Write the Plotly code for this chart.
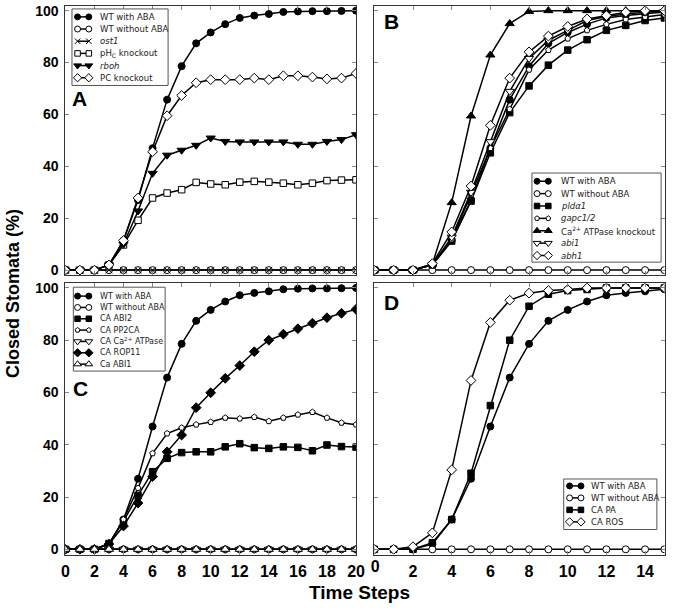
import plotly.graph_objects as go

W, H = 675, 612

# ---------------- data ----------------
steps_long = list(range(21))   # panels A and C
steps_short = list(range(16))  # panels B and D

wt_with_aba = [0, 0, 0, 2, 11.4, 27, 47, 65.7, 78.6, 87.4, 91.6, 94.8, 97.2, 98.1,
               98.7, 99.5, 99.7, 99.8, 99.8, 99.9, 100]
wt_without_aba = [0, 0, 0, 0, 0, 0, 0, 0, 0, 0, 0, 0, 0, 0, 0, 0, 0, 0, 0, 0, 0]

# Panel A
ost1 = [0, 0, 0, 0, 0, 0, 0, 0, 0, 0, 0, 0, 0, 0, 0, 0, 0, 0, 0, 0, 0]
phc_knockout = [0, 0, 0, 2, 9.7, 19.2, 27.8, 29.7, 31, 33.8, 33.2, 32.9, 33.9, 34.2,
                33.9, 33.5, 32.9, 33.5, 34.5, 34.7, 34.8]
rboh = [0, 0, 0, 2, 10, 22.8, 37.3, 44.3, 46.2, 48.1, 50.9, 49.6, 49.4, 49.4,
        49.4, 49.4, 48.5, 48.5, 49.6, 50.3, 52.2]
pc_knockout = [0, 0, 0, 2, 11.4, 27.8, 45.6, 59.5, 67.3, 72.2, 73.4, 73.4, 73.4, 74,
               73.4, 74.9, 74.9, 74.4, 73.7, 74, 75.8]

# Panel B
plda1 = [0, 0, 0, 2, 11.2, 26.6, 45.2, 60.7, 71, 79, 84.8, 88.8, 92.4, 94.3, 96.2, 97.2]
gapc12 = [0, 0, 0, 2, 11.8, 29.2, 47, 62, 77.2, 84.8, 89.2, 92.4, 94.7, 96.6, 97.5, 98.5]
ca_atpase_knockout = [0, 0, 0, 2.3, 26, 59.4, 82.9, 95, 99.7, 100, 100, 100, 100, 100, 100, 100]
abi1 = [0, 0, 0, 2, 12.7, 30, 49.5, 68.9, 81.6, 88.6, 92.4, 96.2, 97.7, 98.7, 99.4, 99.7]
abh1 = [0, 0, 0, 2.5, 14.7, 32.4, 55.8, 74, 84.1, 90.2, 93.9, 96.8, 98.1, 99.4, 100, 100]

# Panel C
ca_abi2 = [0, 0, 0, 2.2, 10.8, 20.6, 29.7, 34.8, 37, 37.3, 37.3, 39.2, 40.4, 38.9,
           38.6, 39.2, 39, 37.7, 39.9, 39.3, 39.1]
ca_pp2ca = [0, 0, 0, 2, 11.4, 23.4, 36.7, 44.3, 46.5, 47.7, 48.7, 50.3, 50, 50.6,
            49, 50.3, 51.5, 52.5, 50.3, 48.4, 47.7]
ca_ca_atpase = [0, 0, 0, 0, 0, 0, 0, 0, 0, 0, 0, 0, 0, 0, 0, 0, 0, 0, 0, 0, 0]
ca_rop11 = [0, 0, 0, 2, 8.9, 17.7, 27.8, 37.3, 43.7, 54.2, 59.9, 65.4, 70.3, 75.6,
            80, 82.3, 84.4, 86.5, 88.6, 90.3, 91.8]
ca_abi1 = [0, 0, 0, 0, 0, 0, 0, 0, 0, 0, 0, 0, 0, 0, 0, 0, 0, 0, 0, 0, 0]

# Panel D
ca_pa = [0, 0, 0, 2.5, 11.4, 29.1, 55, 80, 93, 97.6, 99, 99.4, 100, 100, 100, 100]
ca_ros = [0, 0, 1, 6.3, 30.4, 64.6, 86.8, 95.3, 98, 99, 99.4, 100, 100, 100, 100, 100]

y_ticks = [0, 20, 40, 60, 80, 100]
x_ticks_long = [0, 2, 4, 6, 8, 10, 12, 14, 16, 18, 20]
x_ticks_short = [0, 2, 4, 6, 8, 10, 12, 14]

# ---------------- styles ----------------
STY = {
    "fcircle": dict(symbol="circle", color="black", size=7),
    "ocircle": dict(symbol="circle", color="white", size=7),
    "x": dict(symbol="x-thin", color="black", size=6.5),
    "osquare": dict(symbol="square", color="white", size=6.5),
    "fsquare": dict(symbol="square", color="black", size=6.5),
    "ftridown": dict(symbol="triangle-down", color="black", size=8),
    "otridown": dict(symbol="triangle-down", color="white", size=8),
    "ftriup": dict(symbol="triangle-up", color="black", size=8),
    "otriup": dict(symbol="triangle-up", color="white", size=8),
    "odiamond": dict(symbol="diamond", color="white", size=7.5),
    "fdiamond": dict(symbol="diamond", color="black", size=7.5),
    "opent": dict(symbol="pentagon", color="white", size=6),
}


def marker(key, scale=1.0):
    s = STY[key]
    return dict(symbol=s["symbol"], color=s["color"], size=s["size"] * scale,
                line=dict(color="black", width=1))


# panels: (xaxis id, yaxis id, x values, [(label, values, style)], drawing order)
panels = {
    "A": ("x", "y", steps_long, [
        ("WT with ABA", wt_with_aba, "fcircle"),
        ("WT without ABA", wt_without_aba, "ocircle"),
        ("<i>ost1</i>", ost1, "x"),
        ("pH<sub>C</sub> knockout", phc_knockout, "osquare"),
        ("<i>rboh</i>", rboh, "ftridown"),
        ("PC knockout", pc_knockout, "odiamond"),
    ], None),
    "B": ("x2", "y2", steps_short, [
        ("WT with ABA", wt_with_aba[:16], "fcircle"),
        ("WT without ABA", wt_without_aba[:16], "ocircle"),
        ("<i>pldα1</i>", plda1, "fsquare"),
        ("<i>gapc1/2</i>", gapc12, "opent"),
        ("Ca<sup>2+</sup> ATPase knockout", ca_atpase_knockout, "ftriup"),
        ("<i>abi1</i>", abi1, "otridown"),
        ("<i>abh1</i>", abh1, "odiamond"),
    ], None),
    "C": ("x3", "y3", steps_long, [
        ("WT with ABA", wt_with_aba, "fcircle"),
        ("WT without ABA", wt_without_aba, "ocircle"),
        ("CA ABI2", ca_abi2, "fsquare"),
        ("CA PP2CA", ca_pp2ca, "opent"),
        ("CA Ca<sup>2+</sup> ATPase", ca_ca_atpase, "otridown"),
        ("CA ROP11", ca_rop11, "fdiamond"),
        ("Ca ABI1", ca_abi1, "otriup"),
    ], [0, 2, 3, 5, 1, 4, 6]),
    "D": ("x4", "y4", steps_short, [
        ("WT with ABA", wt_with_aba[:16], "fcircle"),
        ("WT without ABA", wt_without_aba[:16], "ocircle"),
        ("CA PA", ca_pa, "fsquare"),
        ("CA ROS", ca_ros, "odiamond"),
    ], None),
}

# pixel boxes of the panels (left, top, right, bottom)
boxes = {
    "A": (62.5, 3, 359, 275),
    "B": (377.5, 3, 673.5, 275),
    "C": (62.5, 283, 359, 557),
    "D": (377.5, 283, 673.5, 557),
}
x_ranges = {"A": [-0.005, 20.005], "B": [-0.005, 15.005],
            "C": [-0.005, 20.005], "D": [-0.005, 15.005]}
x_tickvals = {"A": x_ticks_long, "B": x_ticks_short, "C": x_ticks_long, "D": x_ticks_short}
y_range = [-2, 101.8]

# legend layout (pixels): box, first row y, row step, sample marker x's, text x, font size
legend_layout = {
    "A": dict(box=(69.3, 6, 167.3, 83.3), y0=14, dy=12.3, mx=(75, 86.5), tx=96, fs=8.5),
    "B": dict(box=(538.3, 171.7, 670, 261.7), y0=180, dy=12.5, mx=(543.5, 555), tx=566, fs=8.5),
    "C": dict(box=(70.7, 287, 164.3, 371.7), y0=296, dy=11.45, mx=(75, 86.5), tx=96, fs=8),
    "D": dict(box=(570.7, 480.7, 665.7, 531.7), y0=487.7, dy=12.1, mx=(576.7, 588.3), tx=596.5, fs=8.5),
}
panel_letters = {"A": (77, 96), "B": (395, 19), "C": (78, 389), "D": (395, 302)}

fig = go.Figure()

for name, (xa, ya, xs, series, order) in panels.items():
    idx = order if order is not None else list(range(len(series)))
    for i in idx:
        label, vals, sty = series[i]
        fig.add_trace(go.Scatter(
            x=xs, y=vals, mode="lines+markers", name=label, showlegend=False,
            xaxis=xa, yaxis=ya,
            line=dict(color="black", width=1.5),
            marker=marker(sty),
        ))

# ---------------- axes ----------------
tick_font_x = dict(family="Liberation Sans, Arial, sans-serif", size=16, color="black", weight="bold")
tick_font_y = dict(family="Liberation Sans, Arial, sans-serif", size=14, color="black", weight="bold")

layout_axes = {}
for name, (xa, ya, xs, series, order) in panels.items():
    l, t, r, b = boxes[name]
    xkey = "xaxis" if xa == "x" else "xaxis" + xa[1:]
    ykey = "yaxis" if ya == "y" else "yaxis" + ya[1:]
    texts = [str(v) for v in x_tickvals[name]]
    if name == "D":
        texts[0] = ""  # plotly suppresses this one next to panel C's "20"; drawn below
    layout_axes[xkey] = dict(
        domain=[l / W, r / W], anchor=ya, range=x_ranges[name],
        tickmode="array", tickvals=x_tickvals[name], ticktext=texts,
        ticks="inside", ticklen=4, tickcolor="#888", tickwidth=1,
        showline=True, mirror="ticks", linecolor="#333", linewidth=1,
        showgrid=False, zeroline=False,
        showticklabels=name in ("C", "D"), tickfont=tick_font_x,
        ticklabelstandoff=2, ticklabeloverflow="allow",
    )
    layout_axes[ykey] = dict(
        domain=[1 - b / H, 1 - t / H], anchor=xa, range=y_range,
        tickmode="array", tickvals=y_ticks, ticktext=[str(v) for v in y_ticks],
        ticks="inside", ticklen=4, tickcolor="#888", tickwidth=1,
        showline=True, mirror="ticks", linecolor="#333", linewidth=1,
        showgrid=False, zeroline=False,
        showticklabels=name in ("A", "C"), tickfont=tick_font_y,
        ticklabelstandoff=3, ticklabeloverflow="allow",
    )

# overlay pixel axes used only for legends / labels
layout_axes["xaxis5"] = dict(domain=[0, 1], range=[0, W], visible=False, anchor="y5", fixedrange=True)
layout_axes["yaxis5"] = dict(domain=[0, 1], range=[H, 0], visible=False, anchor="x5", fixedrange=True)

annotations = []
shapes = []

# first tick label of panel D, drawn as a text item on the overlay pixel axes
fig.add_trace(go.Scatter(
    x=[boxes["D"][0] + 1], y=[570.5], mode="text", text=["<b>0</b>"],
    textposition="middle center", xaxis="x5", yaxis="y5", showlegend=False,
    hoverinfo="skip", cliponaxis=False,
    textfont=dict(family="Liberation Sans, Arial, sans-serif", size=16, color="black"),
))

# ---------------- manual legends ----------------
for name, (xa, ya, xs, series, order) in panels.items():
    lg = legend_layout[name]
    x0, y0, x1, y1 = lg["box"]
    shapes.append(dict(type="rect", xref="x5", yref="y5", x0=x0, y0=y0, x1=x1, y1=y1,
                       line=dict(color="#555", width=1), fillcolor="white", layer="below"))
    for i, (label, vals, sty) in enumerate(series):
        yc = lg["y0"] + i * lg["dy"]
        fig.add_trace(go.Scatter(
            x=list(lg["mx"]), y=[yc, yc], mode="lines+markers", showlegend=False,
            xaxis="x5", yaxis="y5", hoverinfo="skip",
            line=dict(color="black", width=1.5), marker=marker(sty, 0.85),
        ))
        annotations.append(dict(
            x=lg["tx"], y=yc, xref="x5", yref="y5", text=label, showarrow=False,
            xanchor="left", yanchor="middle",
            font=dict(family="DejaVu Sans, sans-serif", size=lg["fs"], color="#222"),
        ))

# panel letters
for name, (px, py) in panel_letters.items():
    annotations.append(dict(
        x=px, y=py, xref="x5", yref="y5", text=name, showarrow=False,
        xanchor="center", yanchor="middle",
        font=dict(family="Liberation Sans, Arial, sans-serif", size=21, color="black", weight="bold"),
    ))

# axis titles
annotations.append(dict(
    x=9, y=293, xref="x5", yref="y5", text="Closed Stomata (%)", showarrow=False,
    textangle=-90, xanchor="center", yanchor="middle",
    font=dict(family="Liberation Sans, Arial, sans-serif", size=18, color="black", weight="bold"),
))
annotations.append(dict(
    x=362, y=595, xref="x5", yref="y5", text="Time Steps", showarrow=False,
    xanchor="center", yanchor="middle",
    font=dict(family="Liberation Sans, Arial, sans-serif", size=19, color="black", weight="bold"),
))

fig.update_layout(
    width=W, height=H,
    margin=dict(l=0, r=0, t=0, b=0, pad=0),
    paper_bgcolor="white", plot_bgcolor="rgba(0,0,0,0)",
    showlegend=False,
    annotations=annotations, shapes=shapes,
    **layout_axes,
)

# the page's default 8px body margin would shift the 675x612 figure; remove it
fig.write_html("out.html", config={"displayModeBar": False},
               post_script="document.body.style.margin='0';")
